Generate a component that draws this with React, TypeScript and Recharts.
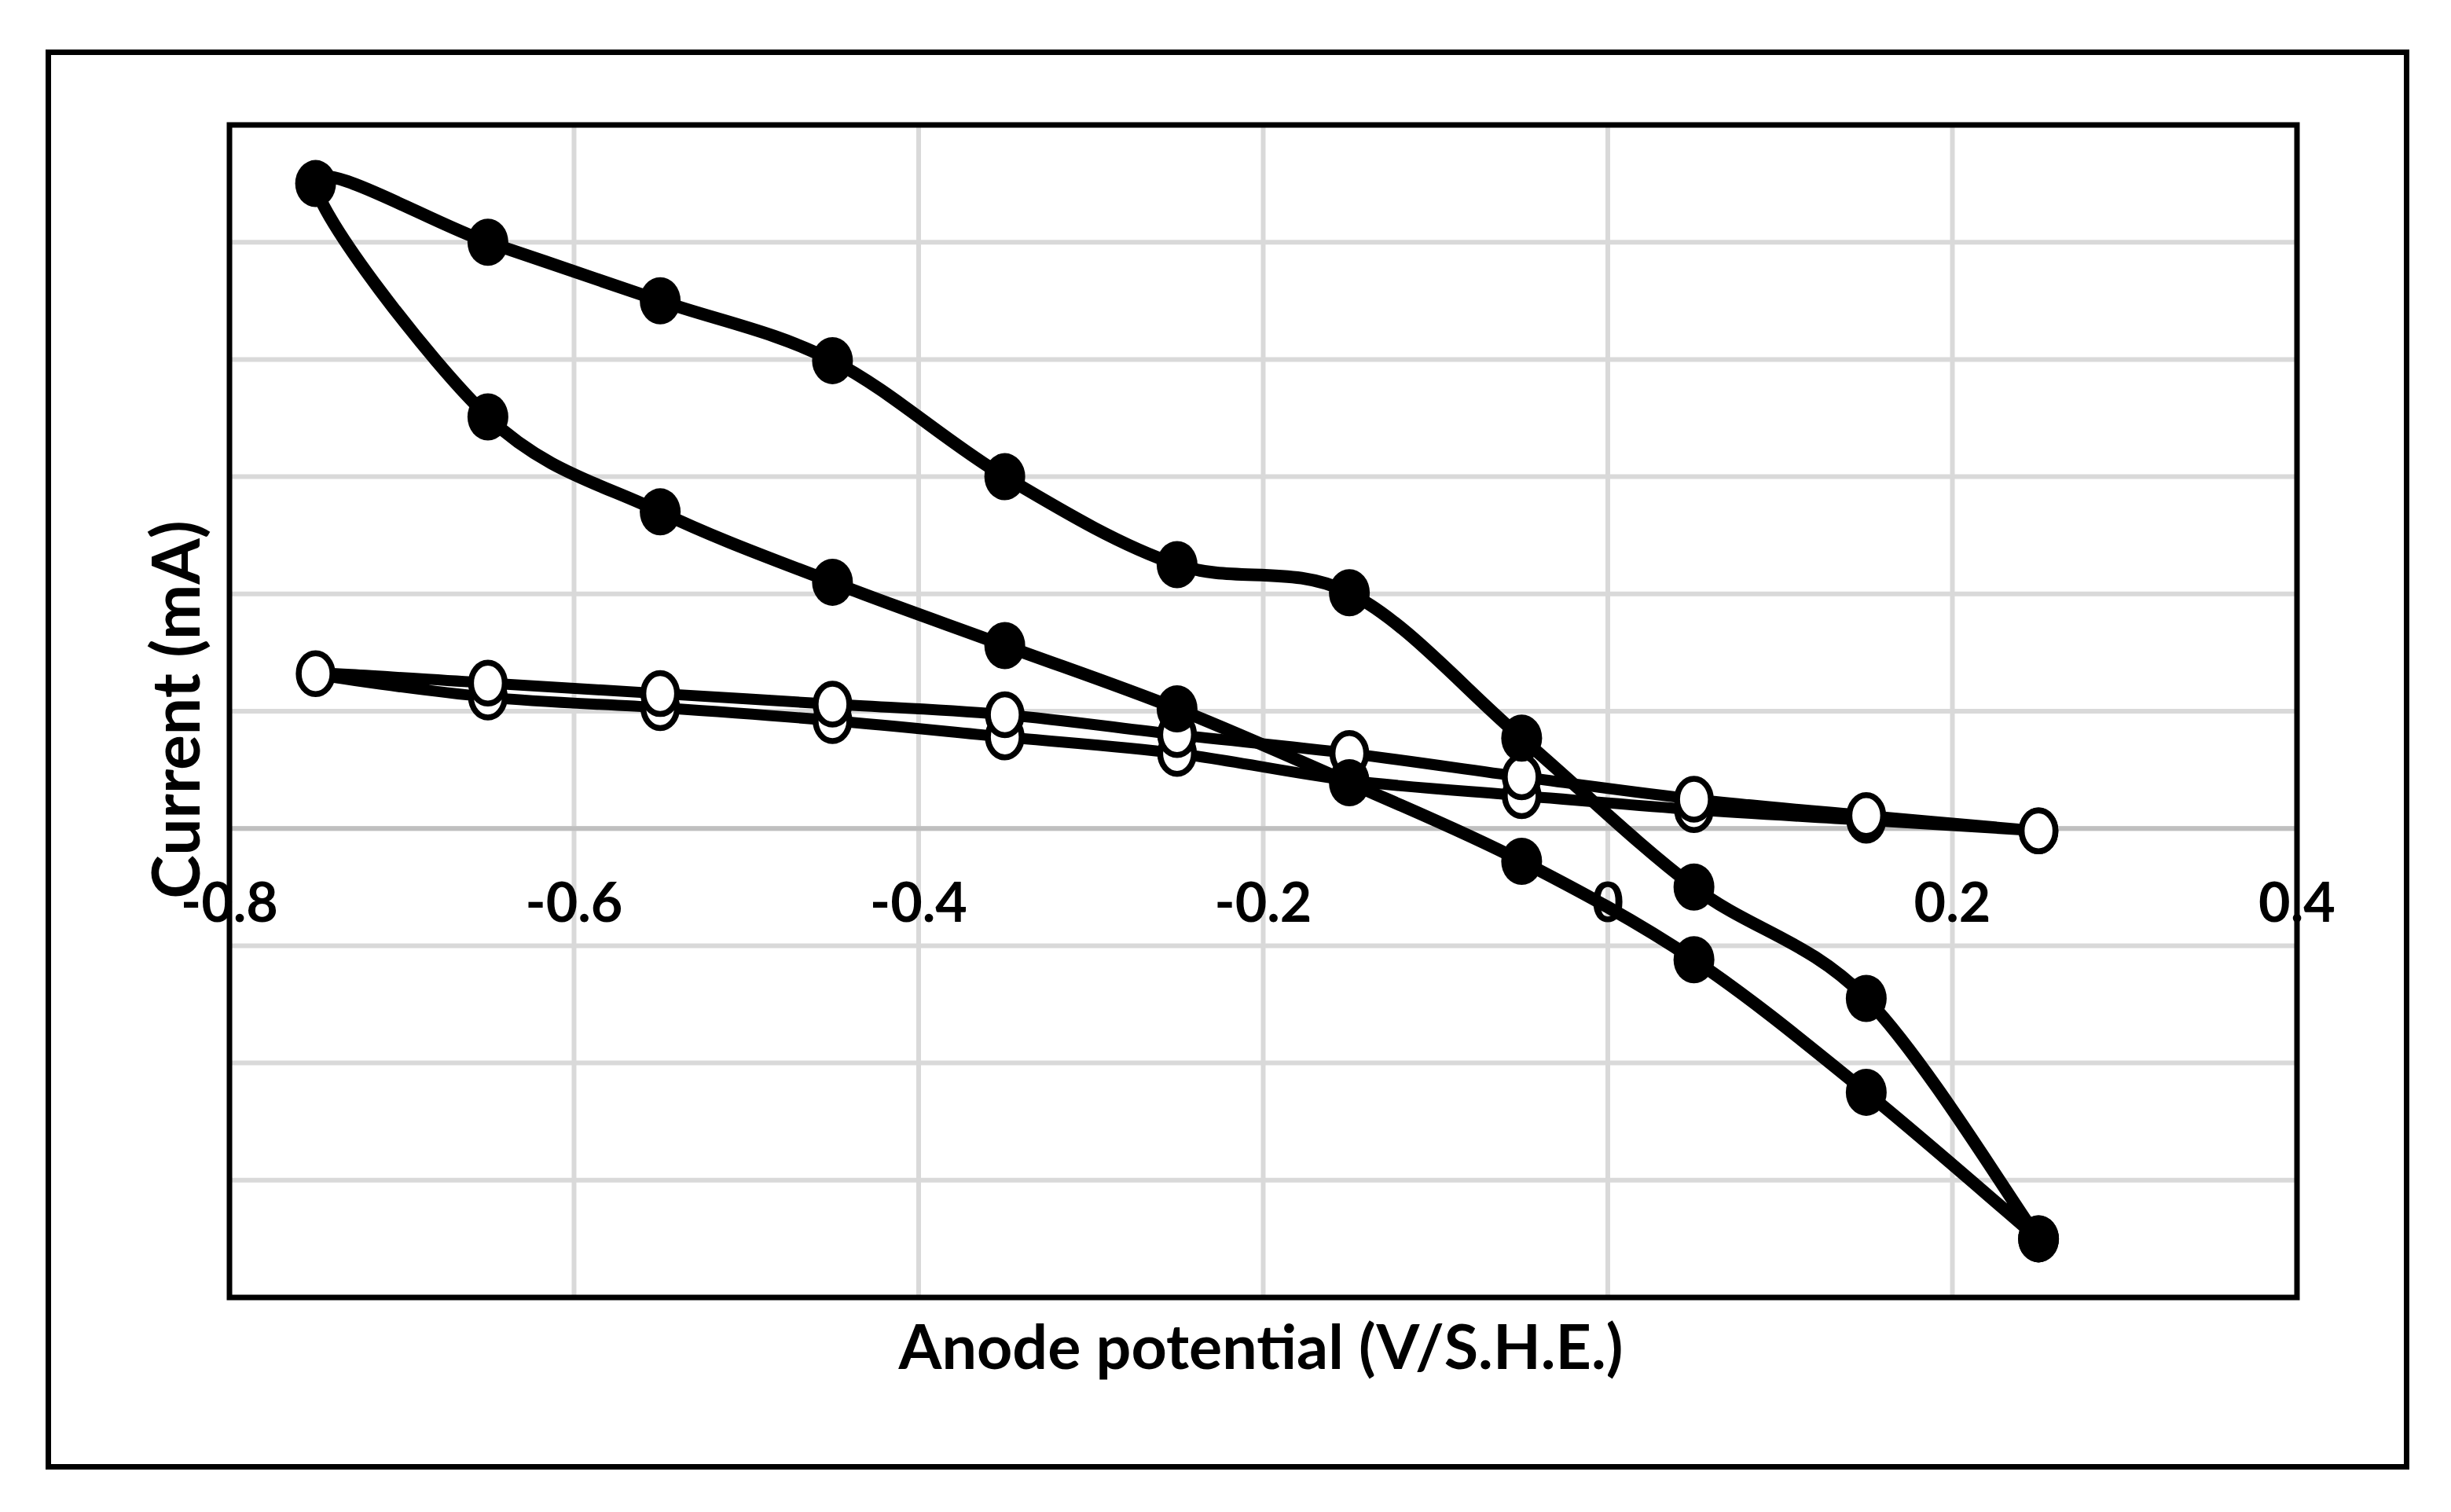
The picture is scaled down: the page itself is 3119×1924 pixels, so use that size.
import React from 'react'
import {
  LineChart,
  Line,
  XAxis,
  YAxis,
  CartesianGrid,
  ReferenceLine,
  ReferenceArea,
} from 'recharts'

// potentials (V vs S.H.E.): the sweep runs back from 0.25 to -0.75, then forward again
const backSweep = [0.25, 0.15, 0.05, -0.05, -0.15, -0.25, -0.35, -0.45, -0.55, -0.65, -0.75]
const forwardSweep = [-0.65, -0.55, -0.45, -0.35, -0.25, -0.15, -0.05, 0.05, 0.15, 0.25]

// current (mA), filled markers
const filledBack = [-3.5, -2.25, -1.12, -0.28, 0.39, 1.02, 1.56, 2.1, 2.7, 3.51, 5.5]
const filledForward = [5.0, 4.5, 3.99, 3.0, 2.25, 2.01, 0.77, -0.5, -1.45, -3.5]

// current (mA), open markers
const openBack = [-0.02, 0.07, 0.16, 0.28, 0.41, 0.64, 0.78, 0.92, 1.03, 1.12, 1.32]
const openForward = [1.24, 1.15, 1.06, 0.97, 0.8, 0.64, 0.44, 0.25, 0.11, -0.02]

const xTicks = [-0.8, -0.6, -0.4, -0.2, 0, 0.2, 0.4]
const yTicks = [-4, -3, -2, -1, 0, 1, 2, 3, 4, 5, 6]

const X_TITLE = 'Anode potential (V/S.H.E.)'
const Y_TITLE = 'Current (mA)'

const W = 3119
const H = 1924
const MARGIN = { top: 159, right: 196, bottom: 272, left: 291 }
const AXIS_PX = 1
const PLOT_LEFT = MARGIN.left + AXIS_PX
const PLOT_W = W - PLOT_LEFT - MARGIN.right
const PLOT_H = H - MARGIN.top - MARGIN.bottom - AXIS_PX
const Y_MIN = yTicks[0]
const Y_MAX = yTicks[yTicks.length - 1]
const ZERO_Y = MARGIN.top + (PLOT_H * Y_MAX) / (Y_MAX - Y_MIN)

const FONT = "Lato, 'Open Sans', sans-serif"

function sweep(back: number[], forward: number[]) {
  return [
    ...backSweep.map((v, i) => ({ v, c: back[i] })),
    ...forwardSweep.map((v, i) => ({ v, c: forward[i] })),
  ]
}

const filledData = sweep(filledBack, filledForward)
const openData = sweep(openBack, openForward)

// Excel-like smoothed line: bezier segments with 1/6 tangents (catmull-rom)
function excelSmooth(context: any) {
  let pts: number[][] = []
  return {
    areaStart() {},
    areaEnd() {},
    lineStart() {
      pts = []
    },
    point(x: number, y: number) {
      pts.push([+x, +y])
    },
    lineEnd() {
      const n = pts.length
      if (!n) return
      context.moveTo(pts[0][0], pts[0][1])
      for (let i = 0; i < n - 1; i++) {
        const p0 = pts[Math.max(i - 1, 0)]
        const p1 = pts[i]
        const p2 = pts[i + 1]
        const p3 = pts[Math.min(i + 2, n - 1)]
        context.bezierCurveTo(
          p1[0] + (p2[0] - p0[0]) / 6,
          p1[1] + (p2[1] - p0[1]) / 6,
          p2[0] - (p3[0] - p1[0]) / 6,
          p2[1] - (p3[1] - p1[1]) / 6,
          p2[0],
          p2[1]
        )
      }
    },
  }
}

const FilledDot = (p: any) => (
  <ellipse key={`f-${p.index}`} cx={p.cx} cy={p.cy} rx={26} ry={30} fill="#000" stroke="none" />
)

const OpenDot = (p: any) => (
  <ellipse
    key={`o-${p.index}`}
    cx={p.cx}
    cy={p.cy}
    rx={21.5}
    ry={26}
    fill="#fff"
    stroke="#000"
    strokeWidth={7.5}
  />
)

const XTick = (p: any) => (
  <text
    x={p.x}
    y={ZERO_Y + 119}
    textAnchor="middle"
    fontFamily={FONT}
    fontWeight={700}
    fontSize={70}
    fill="#000"
  >
    {String(p.payload.value)}
  </text>
)

const NoTick = () => <g />

const XTitle = () => (
  <text
    x={PLOT_LEFT + PLOT_W / 2 - 3}
    y={MARGIN.top + PLOT_H + 91}
    textAnchor="middle"
    fontFamily={FONT}
    fontWeight={700}
    fontSize={79}
    fill="#000"
  >
    {X_TITLE}
  </text>
)

const YTitle = () => {
  const x = PLOT_LEFT - 38
  const y = MARGIN.top + PLOT_H / 2 - 2
  return (
    <text
      x={x}
      y={y}
      transform={`rotate(-90, ${x}, ${y})`}
      textAnchor="middle"
      fontFamily={FONT}
      fontWeight={700}
      fontSize={84}
      fill="#000"
    >
      {Y_TITLE}
    </text>
  )
}

export default function App() {
  return (
    <div style={{ position: 'relative', width: W, height: H, background: '#fff' }}>
      <style>{'body{margin:0}'}</style>
      <div
        style={{
          position: 'absolute',
          left: 58,
          top: 63,
          width: 3008,
          height: 1807,
          border: '7px solid #000',
          boxSizing: 'border-box',
        }}
      />
      <div style={{ position: 'absolute', left: 0, top: 0 }}>
        <LineChart width={W} height={H} margin={MARGIN}>
          <CartesianGrid
            stroke="#d9d9d9"
            strokeWidth={6}
            horizontalValues={yTicks}
            verticalValues={xTicks}
          />
          <XAxis
            type="number"
            dataKey="v"
            domain={[xTicks[0], xTicks[xTicks.length - 1]]}
            ticks={xTicks}
            height={AXIS_PX}
            axisLine={false}
            tickLine={false}
            tickSize={0}
            tickMargin={0}
            tick={XTick}
            interval={0}
            label={XTitle}
          />
          <YAxis
            type="number"
            domain={[Y_MIN, Y_MAX]}
            ticks={yTicks}
            width={AXIS_PX}
            axisLine={false}
            tickLine={false}
            tick={NoTick}
            interval={0}
            label={YTitle}
          />
          <ReferenceLine y={0} stroke="#bfbfbf" strokeWidth={6} zIndex={-50} />
          <ReferenceArea
            x1={xTicks[0]}
            x2={xTicks[xTicks.length - 1]}
            y1={Y_MIN}
            y2={Y_MAX}
            fill="none"
            fillOpacity={0}
            stroke="#000"
            strokeWidth={7}
            ifOverflow="visible"
          />
          <Line
            data={openData}
            dataKey="c"
            type={excelSmooth as any}
            stroke="#000"
            strokeWidth={14}
            strokeLinejoin="round"
            dot={OpenDot}
            activeDot={false}
            isAnimationActive={false}
          />
          <Line
            data={filledData}
            dataKey="c"
            type={excelSmooth as any}
            stroke="#000"
            strokeWidth={16}
            strokeLinejoin="round"
            dot={FilledDot}
            activeDot={false}
            isAnimationActive={false}
          />
        </LineChart>
      </div>
    </div>
  )
}
